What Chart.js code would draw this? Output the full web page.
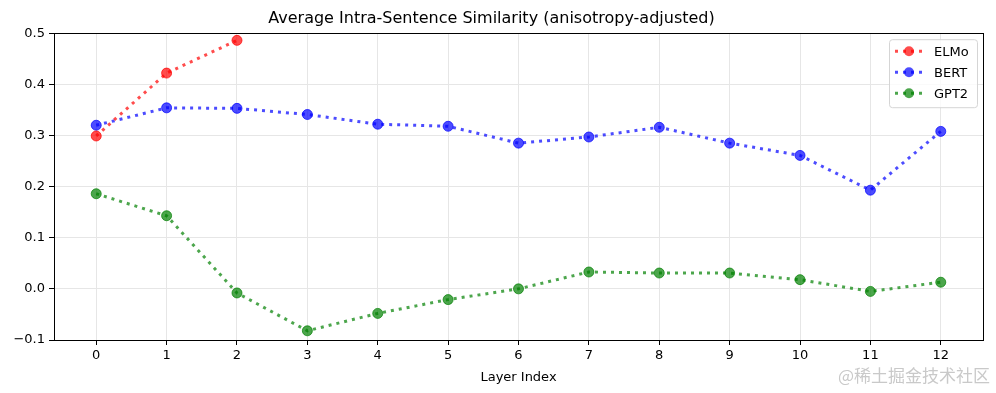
<!DOCTYPE html>
<html>
<head>
<meta charset="utf-8">
<script src="https://cdn.jsdelivr.net/npm/chart.js@4"></script>
<style>
  html, body { margin: 0; padding: 0; background: #fff; }
  #wrap { position: relative; width: 996px; height: 393px; }
  #mark { position: absolute; right: 6px; top: 362px; font: 17px "Noto Sans CJK SC", sans-serif; color: #c9c9c9; }
</style>
</head>
<body>
<div id="wrap">
  <canvas id="chart" width="996" height="393"></canvas>
  <div id="mark">@稀土掘金技术社区</div>
</div>
<script>
"use strict";

// Layer-wise intra-sentence similarity.
const layers = [0, 1, 2, 3, 4, 5, 6, 7, 8, 9, 10, 11, 12];
const elmo = [0.299, 0.422, 0.486];
const bert = [0.320, 0.354, 0.353, 0.341, 0.322, 0.318, 0.285, 0.297, 0.316, 0.285, 0.261, 0.193, 0.308];
const gpt2 = [0.186, 0.143, -0.008, -0.082, -0.048, -0.021, 0.000, 0.033, 0.031, 0.031, 0.018, -0.005, 0.013];
const yTicks = [-0.1, 0.0, 0.1, 0.2, 0.3, 0.4, 0.5];

const FONT = "'DejaVu Sans', sans-serif";
const SERIES = [
  { label: "ELMo", values: elmo, color: "rgba(255,0,0,0.7)" },
  { label: "BERT", values: bert, color: "rgba(0,0,255,0.7)" },
  { label: "GPT2", values: gpt2, color: "rgba(0,128,0,0.7)" },
];

function dataset(s) {
  return {
    label: s.label,
    data: s.values.map((v, i) => ({ x: layers[i], y: v })),
    borderColor: s.color,
    backgroundColor: s.color,
    borderWidth: 3,
    borderDash: [3, 5],
    borderCapStyle: "butt",
    pointRadius: 5,
    pointHoverRadius: 5,
    pointBorderWidth: 1,
    pointBackgroundColor: s.color,
    pointBorderColor: s.color,
    tension: 0,
    fill: false,
  };
}

// matplotlib-style full box around the axes
const frame = {
  id: "frame",
  afterDraw(chart) {
    const { ctx, chartArea: a } = chart;
    ctx.save();
    ctx.strokeStyle = "#000";
    ctx.lineWidth = 1;
    ctx.strokeRect(Math.round(a.left) + 0.5, Math.round(a.top) + 0.5,
      Math.round(a.right - a.left), Math.round(a.bottom - a.top));
    ctx.restore();
  },
};

// legend box in upper right, line + marker icons
const boxLegend = {
  id: "boxLegend",
  afterDraw(chart) {
    const { ctx, chartArea: a } = chart;
    const w = 88, h = 68;
    const x0 = a.right - w - 6, y0 = a.top + 6;
    ctx.save();
    ctx.fillStyle = "rgba(255,255,255,0.8)";
    ctx.strokeStyle = "#d5d5d5";
    ctx.lineWidth = 1;
    ctx.beginPath();
    ctx.roundRect(x0 + 0.5, y0 + 0.5, w, h, 3);
    ctx.fill();
    ctx.stroke();
    SERIES.forEach((s, i) => {
      const cy = y0 + 12 + i * 21;
      ctx.strokeStyle = s.color;
      ctx.lineWidth = 3;
      ctx.setLineDash([3, 5]);
      ctx.beginPath();
      ctx.moveTo(x0 + 6, cy);
      ctx.lineTo(x0 + 34, cy);
      ctx.stroke();
      ctx.setLineDash([]);
      ctx.fillStyle = s.color;
      ctx.beginPath();
      ctx.arc(x0 + 20, cy, 5, 0, Math.PI * 2);
      ctx.fill();
      ctx.fillStyle = "#000";
      ctx.font = "13px " + FONT;
      ctx.textBaseline = "middle";
      ctx.fillText(s.label, x0 + 45, cy + 1);
    });
    ctx.restore();
  },
};

new Chart(document.getElementById("chart"), {
  type: "line",
  data: { datasets: SERIES.map(dataset) },
  plugins: [frame, boxLegend],
  options: {
    responsive: false,
    animation: false,
    layout: { padding: { left: 0, right: 13, top: 0, bottom: 0 } },
    plugins: {
      legend: { display: false },
      tooltip: { enabled: false },
      title: {
        display: true,
        text: "Average Intra-Sentence Similarity (anisotropy-adjusted)",
        color: "#000",
        font: { family: FONT, size: 16, weight: "normal" },
        padding: { top: 9, bottom: 5 },
      },
    },
    scales: {
      x: {
        type: "linear",
        min: -0.6,
        max: 12.6,
        afterBuildTicks(scale) { scale.ticks = layers.map((v) => ({ value: v })); },
        afterFit(scale) { scale.height = 53; },
        ticks: { color: "#000", font: { family: FONT, size: 13 }, padding: 3, maxRotation: 0 },
        grid: { color: "#e6e6e6", lineWidth: 1, tickColor: "#000", tickLength: 5, drawTicks: true },
        border: { color: "#000", width: 1 },
        title: { display: true, text: "Layer Index", color: "#000", font: { family: FONT, size: 13 }, padding: { top: 0, bottom: 8 } },
      },
      y: {
        min: -0.1,
        max: 0.5,
        afterBuildTicks(scale) { scale.ticks = yTicks.map((v) => ({ value: v })); },
        afterFit(scale) { scale.width = 54; },
        ticks: {
          color: "#000",
          font: { family: FONT, size: 13 },
          padding: 4,
          callback: (v) => (v < 0 ? "\u2212" : "") + Math.abs(v).toFixed(1),
        },
        grid: { color: "#e6e6e6", lineWidth: 1, tickColor: "#000", tickLength: 5 },
        border: { color: "#000", width: 1 },
      },
    },
  },
});
</script>
</body>
</html>
